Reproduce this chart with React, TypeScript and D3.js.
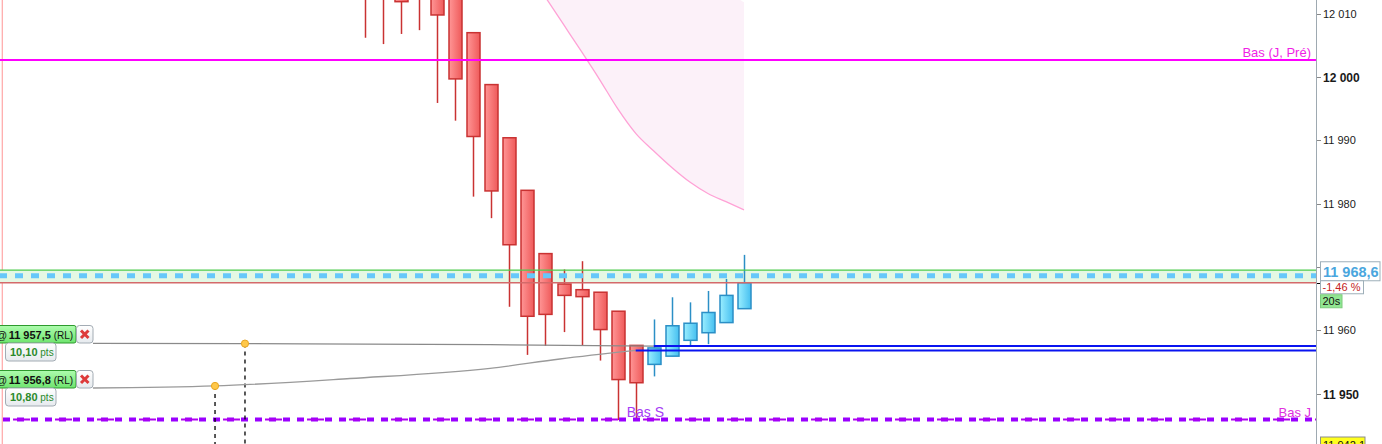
import * as d3 from "d3";

const WIDTH = 1382;
const HEIGHT = 444;
const PLOT_RIGHT = 1316;
const FONT = "Liberation Sans, Arial, Helvetica, sans-serif";

// one-minute candles, index 0 = first visible bar
const barIndex = d3.range(22);
const opens = [12016, 12015, 12013, 12015, 12014, 12013, 12007.0, 11998.8, 11990.4, 11982.1, 11972.1, 11967.3, 11966.4, 11966.0, 11963.0, 11957.6, 11954.6, 11955.9, 11958.4, 11959.6, 11961.2, 11963.4];
const highs = [12018, 12017, 12014, 12016, 12015, 12014, 12007.0, 11998.8, 11990.4, 11982.1, 11972.1, 11969.6, 11970.9, 11966.0, 11963.0, 11957.6, 11961.7, 11965.2, 11964.4, 11966.2, 11968.1, 11971.9];
const lows = [12006.2, 12005.2, 12006.8, 12007.4, 11995.9, 11993.1, 11981.1, 11977.7, 11963.7, 11956.1, 11957.5, 11959.7, 11957.5, 11955.2, 11945.8, 11946.1, 11952.7, 11955.9, 11957.5, 11957.8, 11961.2, 11963.4];
const closes = [12013, 12013.5, 12011.9, 12013, 12009.8, 11999.7, 11990.6, 11982.0, 11973.5, 11962.2, 11962.5, 11965.5, 11965.3, 11960.1, 11952.2, 11951.7, 11957.2, 11960.7, 11961.1, 11962.8, 11965.5, 11967.5];

// envelope band (only its lower edge is inside the view)
const bandIndex = d3.range(10, 22);
const bandLower = [12012.6, 12008.3, 12004.0, 11999.6, 11995.0, 11991.1, 11988.3, 11985.7, 11983.4, 11981.6, 11980.3, 11979.0];
const bandUpper = [12035, 12034, 12033, 12032, 12031, 12030, 12028, 12025, 12022, 12018, 12014, 12011.8];

const yTicks = [12010, 12000, 11990, 11980, 11970, 11960, 11950];

const lastPrice = 11968.6;
const changePct = -1.46;
const countdown = "20s";
const zoneLow = 11967.5;
const zoneHigh = 11969.5;
const basJPre = 12002.7;
const basJ = 11945.9;
const basSIndex = 14.5;
const bottomPrice = 11942.1;
const sessionIndex = -20.1;

// pending orders
const orderPrices = [11957.5, 11956.8];
const orderPts = [10.1, 10.8];
const orderStartIndex = [16, 15];
const orderPathIndex = [
	[-15.07, -6.65, 6.93, 16],
	[-15.07, -8.31, -0.83, 6.93, 10.8, 15],
];
const orderPathValue = [
	[11957.91, 11957.88, 11957.71, 11957.5],
	[11950.87, 11951.19, 11952.37, 11953.98, 11955.45, 11956.8],
];
const orderDotIndex = [-6.65, -8.31];
const orderDotValue = [11957.88, 11951.19];

const locale = d3.formatLocale({ decimal: ",", thousands: " ", grouping: [3], currency: ["", ""], minus: "-" });
const fmt0 = locale.format(",.0f");
const fmt1 = locale.format(",.1f");
const fmt2 = locale.format(".2f");

export default function App() {
	const x = d3.scaleLinear().domain([0, 21]).range([365, 744]);
	const y = d3.scaleLinear().domain([12000, 11950]).range([77, 393.5]);

	const bandArea = d3
		.area<number>()
		.x((d) => x(bandIndex[d]))
		.y0((d) => y(bandLower[d]))
		.y1((d) => y(bandUpper[d]))
		.curve(d3.curveMonotoneX);
	const bandLine = d3
		.line<number>()
		.x((d) => x(bandIndex[d]))
		.y((d) => y(bandLower[d]))
		.curve(d3.curveMonotoneX);
	const bandIdx = d3.range(bandIndex.length);

	const candles = barIndex.map((i) => {
		const up = closes[i] >= opens[i];
		const cx = Math.round(x(i)) + 0.5;
		const top = y(Math.max(opens[i], closes[i]));
		const bottom = y(Math.min(opens[i], closes[i]));
		const stroke = up ? "#2b8fc6" : "#c93232";
		return (
			<g key={i}>
				<line x1={cx} x2={cx} y1={y(highs[i])} y2={y(lows[i])} stroke={stroke} strokeWidth={1.5} />
				<rect
					x={cx - 6.5}
					y={top}
					width={13}
					height={Math.max(1, bottom - top)}
					fill={up ? "url(#blueBody)" : "url(#redBody)"}
					stroke={stroke}
					strokeWidth={1.5}
				/>
			</g>
		);
	});

	const orderLine = d3
		.line<[number, number]>()
		.x((d) => x(d[0]))
		.y((d) => y(d[1]))
		.curve(d3.curveMonotoneX);

	const orders = orderPrices.map((p, k) => {
		const pts = orderPathIndex[k].map((v, j) => [v, orderPathValue[k][j]] as [number, number]);
		const bottom = Math.round(y(orderPathValue[k][0]));
		const top = bottom - 18;
		const dx = x(orderDotIndex[k]);
		const dy = y(orderDotValue[k]);
		return (
			<g key={k}>
				<path d={orderLine(pts) ?? ""} fill="none" stroke={k === 0 ? "#8a8a8a" : "#9a9a9a"} strokeWidth={1.3} />
				<line x1={x(orderStartIndex[k])} x2={PLOT_RIGHT} y1={y(p)} y2={y(p)} stroke="#0a14f0" strokeWidth={2} />
				<line x1={dx} x2={dx} y1={dy} y2={HEIGHT} stroke="#000" strokeWidth={1.3} strokeDasharray="4,4" />
				<circle cx={dx} cy={dy} r={3.6} fill="#ffc84a" stroke="#e8a623" strokeWidth={1} />
				{/* label */}
				<rect x={-6} y={top + 0.5} width={82} height={17.5} rx={2} fill="url(#orderGreen)" stroke="#2e9a2e" />
				<rect x={76.5} y={top + 0.5} width={16.5} height={17.5} rx={3} fill="url(#ptsBox)" stroke="#a3acb4" />
				<line x1={81} x2={88.5} y1={top + 5.5} y2={top + 13} stroke="#dd3a3a" strokeWidth={3} />
				<line x1={88.5} x2={81} y1={top + 5.5} y2={top + 13} stroke="#dd3a3a" strokeWidth={3} />
				<text x={-4} y={top + 13.5} fontFamily={FONT} fontSize={11} fill="#111">
					<tspan>@</tspan>
					<tspan dx={1.5} fontWeight="bold">{fmt1(p)}</tspan>
					<tspan fontSize={10}> (RL)</tspan>
				</text>
				<rect x={5.5} y={bottom} width={50.5} height={18} rx={3} fill="url(#ptsBox)" stroke="#a3acb4" />
				<text x={10} y={bottom + 13} fontFamily={FONT} fontSize={11} fill="#2a8a2a">
					<tspan fontWeight="bold">{fmt2(orderPts[k])}</tspan>
					<tspan fontSize={10}> pts</tspan>
				</text>
			</g>
		);
	});

	const lastY = y(lastPrice);

	return (
		<svg
			width={WIDTH}
			height={HEIGHT}
			style={{ position: "absolute", left: 0, top: 0, background: "#fff" }}
		>
			<defs>
				<linearGradient id="redBody" x1="0" x2="1" y1="0" y2="0">
					<stop offset="0%" stopColor="#ff9696" />
					<stop offset="100%" stopColor="#ef5a5a" />
				</linearGradient>
				<linearGradient id="blueBody" x1="0" x2="1" y1="0" y2="0">
					<stop offset="0%" stopColor="#9aeeff" />
					<stop offset="100%" stopColor="#46bff0" />
				</linearGradient>
				<linearGradient id="orderGreen" x1="0" x2="0" y1="0" y2="1">
					<stop offset="0%" stopColor="#aefcae" />
					<stop offset="100%" stopColor="#6ee46e" />
				</linearGradient>
				<linearGradient id="ptsBox" x1="0" x2="0" y1="0" y2="1">
					<stop offset="0%" stopColor="#ffffff" />
					<stop offset="100%" stopColor="#e6eaee" />
				</linearGradient>
				<clipPath id="plot">
					<rect x={0} y={0} width={PLOT_RIGHT} height={HEIGHT} />
				</clipPath>
			</defs>

			<g clipPath="url(#plot)">
				<path d={bandArea(bandIdx) ?? ""} fill="#fcf1f9" />
				<path d={bandLine(bandIdx) ?? ""} fill="none" stroke="#ffa2d6" strokeWidth={1.3} />

				<line x1={x(sessionIndex)} x2={x(sessionIndex)} y1={0} y2={HEIGHT} stroke="#ff9494" strokeWidth={1} />

				<rect x={0} y={y(zoneHigh)} width={PLOT_RIGHT} height={y(zoneLow) - y(zoneHigh)} fill="#e4f8e4" />

				{candles}

				<line x1={0} x2={PLOT_RIGHT} y1={y(zoneHigh)} y2={y(zoneHigh)} stroke="#4ccc4c" strokeWidth={1.3} />
				<line x1={0} x2={PLOT_RIGHT} y1={y(zoneLow)} y2={y(zoneLow)} stroke="#d46a6a" strokeWidth={1.3} />
				<line
					x1={0}
					x2={PLOT_RIGHT}
					y1={lastY}
					y2={lastY}
					stroke="#66c8fa"
					strokeWidth={5}
					strokeDasharray="8,8"
					strokeDashoffset={1}
				/>

				<line x1={0} x2={PLOT_RIGHT} y1={y(basJPre)} y2={y(basJPre)} stroke="#ff00ff" strokeWidth={2} />
				<text x={1311} y={y(basJPre) - 3} textAnchor="end" fontFamily={FONT} fontSize={13} fill="#f01ee6">
					Bas (J, Pré)
				</text>

				<line
					x1={0}
					x2={PLOT_RIGHT}
					y1={y(basJ)}
					y2={y(basJ)}
					stroke="#9a00ff"
					strokeWidth={4}
					strokeDasharray="7,7"
					strokeDashoffset={11}
				/>
				<line
					x1={0}
					x2={PLOT_RIGHT}
					y1={y(basJ)}
					y2={y(basJ)}
					stroke="#b000f0"
					strokeWidth={2}
					strokeDasharray="17,25"
					strokeDashoffset={29}
				/>
				<text x={x(basSIndex)} y={y(basJ) - 2.5} fontFamily={FONT} fontSize={14} fill="#a63cf5">
					Bas S
				</text>
				<text x={1311} y={y(basJ) - 2.5} textAnchor="end" fontFamily={FONT} fontSize={13} fill="#e030e0">
					Bas J
				</text>

				{orders}
			</g>

			{/* price axis */}
			<line x1={PLOT_RIGHT + 0.5} x2={PLOT_RIGHT + 0.5} y1={0} y2={HEIGHT} stroke="#9ea9b1" strokeWidth={1} />
			{yTicks.map((t) => {
				// the last-price tag covers the label of the nearby tick
				const hidden = Math.abs(y(t) - lastY) < 16;
				return (
					<g key={t} transform={`translate(0, ${Math.round(y(t)) + 0.5})`}>
						<line x1={PLOT_RIGHT + 1} x2={PLOT_RIGHT + 5} stroke="#888" />
						{!hidden && (
							<text
								x={PLOT_RIGHT + 7}
								dy="0.35em"
								fontFamily={FONT}
								fontSize={t % 50 === 0 ? 12 : 11}
								fontWeight={t % 50 === 0 ? "bold" : "normal"}
								fill="#1a1a1a"
							>
								{fmt0(t)}
							</text>
						)}
					</g>
				);
			})}
			<line x1={PLOT_RIGHT + 1} x2={PLOT_RIGHT + 6} y1={Math.round(y(zoneLow)) + 0.5} y2={Math.round(y(zoneLow)) + 0.5} stroke="#000" />

			<rect x={1320.5} y={lastY - 14} width={59.5} height={19} fill="#fff" stroke="#9eafb9" />
			<text x={1323} y={lastY + 1.5} fontFamily={FONT} fontSize={14.5} fontWeight="bold" fill="#4aa6de">
				{fmt1(lastPrice)}
			</text>
			<rect x={1320.5} y={lastY + 5} width={43} height={13} fill="#fff" stroke="#9eafb9" />
			<text x={1322.5} y={lastY + 15} fontFamily={FONT} fontSize={11} fill="#c42424">
				{fmt2(changePct)} %
			</text>
			<rect x={1320.5} y={lastY + 19} width={21.5} height={13} fill="#92e692" stroke="#7ccc7c" />
			<text x={1322.5} y={lastY + 29.5} fontFamily={FONT} fontSize={11} fill="#111">
				{countdown}
			</text>

			<rect x={1320.5} y={y(bottomPrice) - 6.5} width={44.5} height={14} fill="#ffff1e" stroke="#8c8c8c" />
			<text x={1323} y={y(bottomPrice) + 5} fontFamily={FONT} fontSize={11} fill="#111">
				{fmt1(bottomPrice)}
			</text>
		</svg>
	);
}
